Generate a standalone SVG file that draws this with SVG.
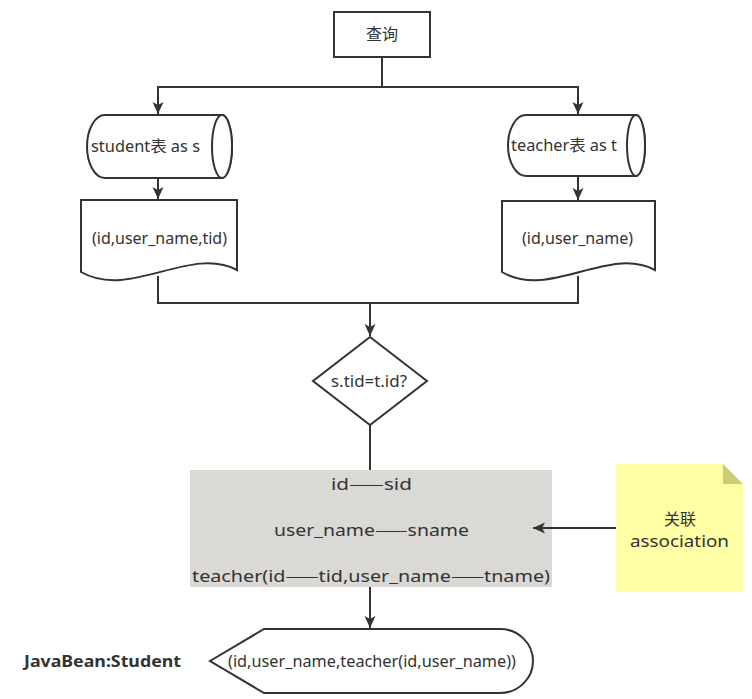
<svg xmlns="http://www.w3.org/2000/svg" width="752" height="699" viewBox="0 0 752 699">
<style>
.s{fill:#fff;stroke:#333;stroke-width:2}
.t{font-family:"Noto Sans","Noto Sans CJK SC",sans-serif;fill:#333;font-size:16px}
.d{font-family:"Noto Sans CJK SC",sans-serif}
.c{stroke:#333;stroke-width:2;fill:none}
</style>
<defs>
<marker id="a" markerUnits="userSpaceOnUse" markerWidth="14" markerHeight="14" refX="12" refY="7" orient="auto">
<path d="M0,1.5 L12,7 L0,12.5 L3,7 Z" fill="#333"/>
</marker>
</defs>
<rect width="752" height="699" fill="#fff"/>
<g id="query">
<rect class="s" x="334" y="12" width="96" height="45"/>
<text class="t" x="382" y="40" text-anchor="middle">查询</text>
</g>
<g id="student-table">
<path class="s" d="M105,115 H222 A10,31.5 0 0 1 222,178 H105 A18,31.5 0 0 1 105,115 Z"/>
<ellipse class="s" cx="222" cy="146.5" rx="10" ry="31.5"/>
<text class="t" x="91" y="152" textLength="109" lengthAdjust="spacingAndGlyphs">student表 as s</text>
</g>
<g id="teacher-table">
<path class="s" d="M526,115 H636 A9,30.5 0 0 1 636,176 H526 A18,30.5 0 0 1 526,115 Z"/>
<ellipse class="s" cx="636" cy="145.5" rx="9" ry="30.5"/>
<text class="t" x="511" y="151" textLength="106" lengthAdjust="spacingAndGlyphs">teacher表 as t</text>
</g>
<g id="student-fields">
<path class="s" d="M81,200 H237 V270 C190,245 130,300 81,272 Z"/>
<text class="t" x="92" y="244" textLength="135" lengthAdjust="spacingAndGlyphs">(id,user_name,tid)</text>
</g>
<g id="teacher-fields">
<path class="s" d="M502,201 H655 V270 C608,245 550,300 502,272 Z"/>
<text class="t" x="522" y="244" textLength="111" lengthAdjust="spacingAndGlyphs">(id,user_name)</text>
</g>
<g id="condition">
<path class="s" d="M370,337 L427,381 L370,425 L313,381 Z"/>
<text class="t" x="331" y="387" textLength="76" lengthAdjust="spacingAndGlyphs">s.tid=t.id?</text>
</g>
<g id="mapping">
<rect x="190" y="470" width="362" height="117" fill="#dad9d5"/>
<text class="t" x="331" y="490" font-size="18.5" textLength="81" lengthAdjust="spacingAndGlyphs">id<tspan class="d">——</tspan>sid</text>
<text class="t" x="274" y="536" font-size="18.5" textLength="195" lengthAdjust="spacingAndGlyphs">user_name<tspan class="d">——</tspan>sname</text>
<text class="t" x="192" y="582" font-size="18.5" textLength="358" lengthAdjust="spacingAndGlyphs">teacher(id<tspan class="d">——</tspan>tid,user_name<tspan class="d">——</tspan>tname)</text>
</g>
<g id="note">
<path d="M616,464 H723 L743,484 V592 H616 Z" fill="#ffffa6"/>
<path d="M723,464 V484 H743 Z" fill="#cccc77"/>
<text class="t" x="680" y="525" text-anchor="middle" font-size="19">关联</text>
<text class="t" x="630" y="547" font-size="18" textLength="99" lengthAdjust="spacingAndGlyphs">association</text>
</g>
<g id="label">
<text class="t" x="24" y="667" font-size="17" font-weight="bold" textLength="157" lengthAdjust="spacingAndGlyphs">JavaBean:Student</text>
</g>
<g id="result">
<path class="s" d="M210,661 L264,629 H500 A33,32 0 0 1 500,693 H264 Z"/>
<text class="t" x="228" y="667" textLength="288" lengthAdjust="spacingAndGlyphs">(id,user_name,teacher(id,user_name))</text>
</g>
<g id="connectors">
<path class="c" d="M382,57 V87 H158 V114" marker-end="url(#a)"/>
<path class="c" d="M382,87 H578 V114" marker-end="url(#a)"/>
<path class="c" d="M158,178 V199" marker-end="url(#a)"/>
<path class="c" d="M578,176 V200" marker-end="url(#a)"/>
<path class="c" d="M158,276 V303 H578 V276"/>
<path class="c" d="M370,303 V336" marker-end="url(#a)"/>
<path class="c" d="M370,425 V470"/>
<path class="c" d="M370,587 V628" marker-end="url(#a)"/>
<path class="c" d="M616,528 H533" marker-end="url(#a)"/>
</g>
</svg>
